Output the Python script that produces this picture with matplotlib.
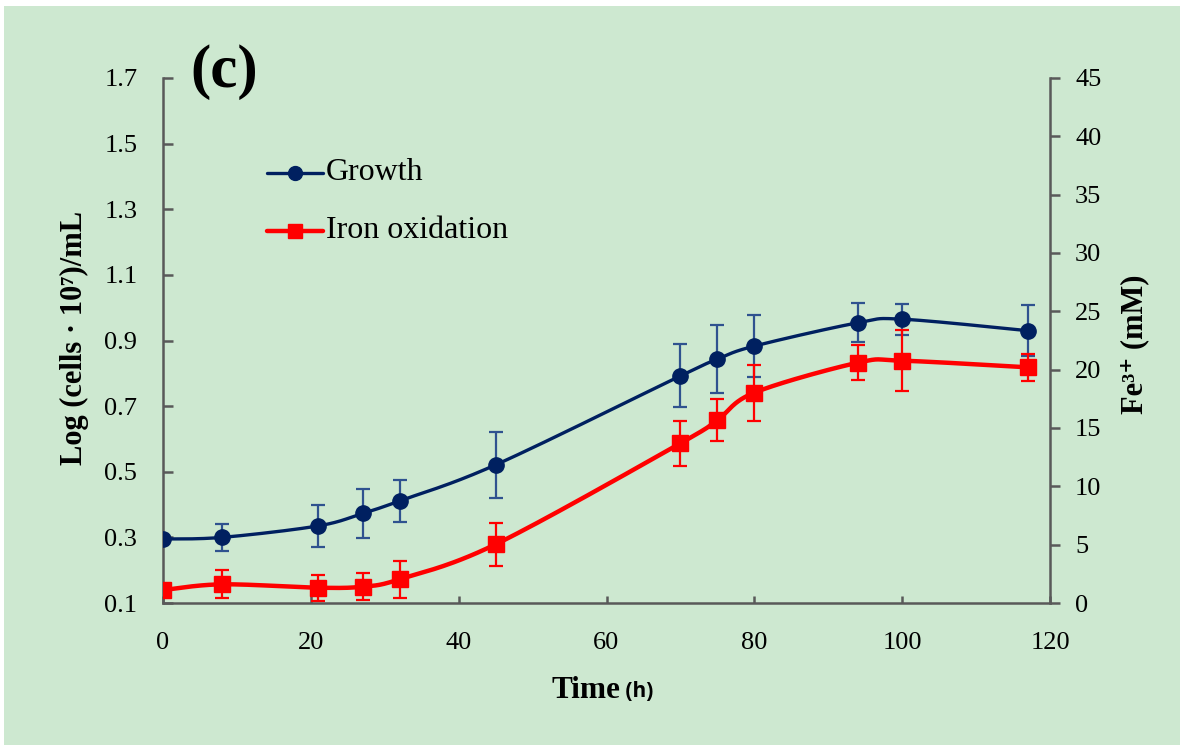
import numpy as np
import matplotlib
matplotlib.use("Agg")
import matplotlib.pyplot as plt
from matplotlib.lines import Line2D
from matplotlib.patches import Rectangle

# ---------------- data ----------------
time_h = [0, 8, 21, 27, 32, 45, 70, 75, 80, 94, 100, 117]
growth = [0.295, 0.300, 0.335, 0.373, 0.411, 0.521, 0.792, 0.843, 0.883, 0.954, 0.965, 0.930]
growth_err = [0.0, 0.041, 0.065, 0.075, 0.064, 0.100, 0.096, 0.104, 0.095, 0.060, 0.047, 0.077]
iron = [1.11, 1.60, 1.31, 1.40, 2.03, 5.03, 13.69, 15.69, 18.03, 20.60, 20.77, 20.20]
iron_err = [0.0, 1.20, 1.10, 1.17, 1.60, 1.86, 1.93, 1.78, 2.41, 1.49, 2.63, 1.17]
series_names = ["Growth", "Iron oxidation"]

xticks = [0, 20, 40, 60, 80, 100, 120]
yticks_left = [0.1, 0.3, 0.5, 0.7, 0.9, 1.1, 1.3, 1.5, 1.7]
yticks_right = [0, 5, 10, 15, 20, 25, 30, 35, 40, 45]

NAVY = "#002060"
NAVY_ERR = "#2f528f"
RED = "#ff0000"
BG = "#cde8d0"
AXC = "#595959"
SERIF = ["Liberation Serif", "DejaVu Serif"]


def smooth(x, y, n=30):
    """Catmull-Rom style smoothing of a polyline (Excel-like smoothed line)."""
    x = np.asarray(x, float)
    y = np.asarray(y, float)
    px = np.concatenate([[x[0]], x, [x[-1]]])
    py = np.concatenate([[y[0]], y, [y[-1]]])
    xs, ys = [], []
    t = np.linspace(0, 1, n)
    for i in range(1, len(px) - 2):
        p0, p1, p2, p3 = (np.array([px[j], py[j]]) for j in (i - 1, i, i + 1, i + 2))
        c1 = p1 + (p2 - p0) / 6.0
        c2 = p2 - (p3 - p1) / 6.0
        b = ((1 - t) ** 3)[:, None] * p1 + (3 * (1 - t) ** 2 * t)[:, None] * c1 \
            + (3 * (1 - t) * t ** 2)[:, None] * c2 + (t ** 3)[:, None] * p2
        xs.append(b[:, 0])
        ys.append(b[:, 1])
    return np.concatenate(xs), np.concatenate(ys)


W, H = 1180, 745
fig = plt.figure(figsize=(W / 100, H / 100), dpi=100, facecolor="white")
fig.patches.append(Rectangle((4 / W, 0), 1, 1 - 6 / H, transform=fig.transFigure,
                             facecolor=BG, edgecolor="none", zorder=-10))

ax = fig.add_axes([163 / W, 1 - 603 / H, (1050 - 163) / W, (603 - 78) / H])
ax.set_facecolor("none")
ax2 = ax.twinx()
ax2.set_facecolor("none")

# growth
sx, sy = smooth(time_h, growth)
ax.plot(sx, sy, color=NAVY, lw=2.4, zorder=3, solid_capstyle="round")
ax.errorbar(time_h, growth, yerr=growth_err, fmt="none", ecolor=NAVY_ERR,
            elinewidth=1.6, capsize=5, capthick=1.6, zorder=4)
ax.plot(time_h, growth, "o", color=NAVY, ms=11, zorder=5)

# iron oxidation
sx2, sy2 = smooth(time_h, iron)
ax2.plot(sx2, sy2, color=RED, lw=3.2, zorder=3, solid_capstyle="round")
ax2.errorbar(time_h, iron, yerr=iron_err, fmt="none", ecolor=RED,
             elinewidth=1.6, capsize=5, capthick=1.6, zorder=4)
ax2.plot(time_h, iron, "s", color=RED, ms=11, zorder=5)

ax.set_xlim(0, 120)
ax.set_ylim(0.1, 1.7)
ax2.set_ylim(0, 45)
ax.set_xticks(xticks)
ax.set_yticks(yticks_left)
ax.set_yticklabels([f"{v:.1f}" for v in yticks_left])
ax2.set_yticks(yticks_right)
ax.set_xticklabels([str(v) for v in xticks])

for a in (ax, ax2):
    for s in a.spines.values():
        s.set_visible(False)
ax.spines["left"].set_visible(True)
ax.spines["bottom"].set_visible(True)
ax2.spines["right"].set_visible(True)
for s in (ax.spines["left"], ax.spines["bottom"], ax2.spines["right"]):
    s.set_color(AXC)
    s.set_linewidth(1.8)

ax.tick_params(axis="y", direction="in", length=7, width=1.8, color=AXC,
               labelsize=19, pad=18.5, labelcolor="black")
ax.tick_params(axis="x", direction="in", length=5, width=1.8, color=AXC,
               labelsize=19, pad=21, labelcolor="black")
ax2.tick_params(axis="y", direction="out", length=7, width=1.8, color=AXC,
                labelsize=19, pad=11, labelcolor="black")
for lab in ax.get_xticklabels() + ax.get_yticklabels() + ax2.get_yticklabels():
    lab.set_family(SERIF)

# axis labels
fig.text(74 / W, 1 - 338 / H, "Log (cells · 10⁷)/mL", rotation=90, ha="center",
         va="center", fontsize=22, fontweight="bold", family=SERIF)
fig.text(1135 / W, 1 - 344 / H, "Fe³⁺ (mM)", rotation=90, ha="center",
         va="center", fontsize=22, fontweight="bold", family=SERIF)
t_time = fig.text(551 / W, 1 - 690 / H, "Time", ha="left", va="center",
                  fontsize=22.5, fontweight="bold", family=SERIF)
ax.annotate(" (h)", xy=(1, 0.08), xycoords=t_time, ha="left", va="bottom",
            fontsize=15, fontweight="bold", family=["Open Sans", "DejaVu Sans"])

# panel letter
fig.text(190 / W, 1 - 72 / H, "(c)", ha="left", va="center", fontsize=44,
         fontweight="bold", family=SERIF)

# legend (drawn by hand to match placement)
leg_rows = [(173, NAVY, 2.4, "o", 10), (231, RED, 3.2, "s", 10)]
for (yp, col, lw, mk, ms), name in zip(leg_rows, series_names):
    yf = 1 - yp / H
    fig.add_artist(Line2D([267 / W, 323 / W], [yf, yf], transform=fig.transFigure,
                          color=col, lw=lw, solid_capstyle="round"))
    fig.add_artist(Line2D([295 / W], [yf], transform=fig.transFigure,
                          color=col, marker=mk, ms=ms, lw=0))
    fig.text(326 / W, yf, name, ha="left", va="center", fontsize=23,
             family=SERIF)

fig.savefig("out.png", dpi=100, facecolor="white")
